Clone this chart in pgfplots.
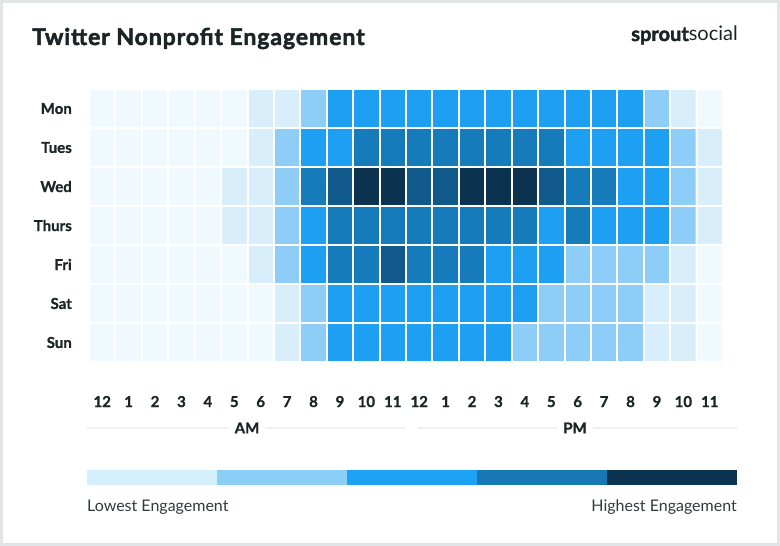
\documentclass[border=0pt]{standalone}
\usepackage{pgfplots}
\pgfplotsset{compat=1.18}
\usepackage{fontspec}
\setmainfont{Lato}
\newfontfamily\heavy{Lato}[BoldFeatures={FakeBold=2.2}]
\newfontfamily\heavyspaced{Lato}[BoldFeatures={FakeBold=2.2,LetterSpace=4}]
\newfontfamily\semiheavy{Lato}[BoldFeatures={FakeBold=1}]
\definecolor{txt}{HTML}{1C2526}
\definecolor{frame}{HTML}{E1E5E5}
\definecolor{rule}{HTML}{EEEFEF}
\definecolor{lv0}{HTML}{F0FAFE}
\definecolor{lv1}{HTML}{D8EEFB}
\definecolor{lv2}{HTML}{8DCDF7}
\definecolor{lv3}{HTML}{1DA0F2}
\definecolor{lv4}{HTML}{167BBA}
\definecolor{lv5}{HTML}{11598A}
\definecolor{lv6}{HTML}{0B3350}
\definecolor{lg1}{HTML}{D5F0FC}
\definecolor{lg2}{HTML}{8ACFF6}
\definecolor{lg3}{HTML}{1DA1F2}
\definecolor{lg4}{HTML}{1877B5}
\definecolor{lg5}{HTML}{0C3451}
\begin{document}
\begin{tikzpicture}[x=1pt,y=1pt]
\fill[frame] (0,0) rectangle (780,546);
\fill[white] (3,3) rectangle (777,543);
\node[anchor=base west, inner sep=0, text=txt, font=\fontsize{23}{26}\heavyspaced\bfseries] at (32,501) {Twitter Nonprofit Engagement};
\node[anchor=base east, inner sep=0, text=txt, font=\fontsize{20}{22}\selectfont] at (738,505) {{\heavy\bfseries sprout}social};
\begin{axis}[at={(89pt,184pt)}, anchor=south west, scale only axis,
  width=634pt, height=273pt,
  xmin=-0.5, xmax=23.5, ymin=-0.5, ymax=6.5, y dir=reverse,
  axis line style={draw=none}, major tick length=0pt,
  xtick={0,...,23}, ytick={0,...,6},
  xticklabels={12,1,2,3,4,5,6,7,8,9,10,11,12,1,2,3,4,5,6,7,8,9,10,11},
  yticklabels={Mon,Tues,Wed,Thurs,Fri,Sat,Sun},
  x tick label style={anchor=base, inner sep=0pt, yshift=-45pt, font=\fontsize{15}{16}\semiheavy\bfseries, text=txt},
  y tick label style={anchor=east, inner sep=0pt, xshift=-17pt, font=\fontsize{15}{16}\semiheavy\bfseries, text=txt},
  colormap={lvls}{color(0)=(lv0) color(1)=(lv1) color(2)=(lv2) color(3)=(lv3) color(4)=(lv4) color(5)=(lv5) color(6)=(lv6)},
  colormap access=direct,
]
\addplot[matrix plot*, point meta=explicit, mesh/cols=24, draw=white, line width=2pt] coordinates {
(0,0)[0] (1,0)[0] (2,0)[0] (3,0)[0] (4,0)[0] (5,0)[0] (6,0)[1] (7,0)[1] (8,0)[2] (9,0)[3] (10,0)[3] (11,0)[3] (12,0)[3] (13,0)[3] (14,0)[3] (15,0)[3] (16,0)[3] (17,0)[3] (18,0)[3] (19,0)[3] (20,0)[3] (21,0)[2] (22,0)[1] (23,0)[0]

(0,1)[0] (1,1)[0] (2,1)[0] (3,1)[0] (4,1)[0] (5,1)[0] (6,1)[1] (7,1)[2] (8,1)[3] (9,1)[3] (10,1)[4] (11,1)[4] (12,1)[4] (13,1)[4] (14,1)[4] (15,1)[4] (16,1)[4] (17,1)[4] (18,1)[3] (19,1)[3] (20,1)[3] (21,1)[3] (22,1)[2] (23,1)[1]

(0,2)[0] (1,2)[0] (2,2)[0] (3,2)[0] (4,2)[0] (5,2)[1] (6,2)[1] (7,2)[2] (8,2)[4] (9,2)[5] (10,2)[6] (11,2)[6] (12,2)[5] (13,2)[5] (14,2)[6] (15,2)[6] (16,2)[6] (17,2)[5] (18,2)[4] (19,2)[4] (20,2)[3] (21,2)[3] (22,2)[2] (23,2)[1]

(0,3)[0] (1,3)[0] (2,3)[0] (3,3)[0] (4,3)[0] (5,3)[1] (6,3)[1] (7,3)[2] (8,3)[3] (9,3)[4] (10,3)[4] (11,3)[4] (12,3)[4] (13,3)[4] (14,3)[4] (15,3)[4] (16,3)[4] (17,3)[3] (18,3)[4] (19,3)[3] (20,3)[3] (21,3)[3] (22,3)[2] (23,3)[1]

(0,4)[0] (1,4)[0] (2,4)[0] (3,4)[0] (4,4)[0] (5,4)[0] (6,4)[1] (7,4)[2] (8,4)[3] (9,4)[4] (10,4)[4] (11,4)[5] (12,4)[4] (13,4)[4] (14,4)[4] (15,4)[3] (16,4)[3] (17,4)[3] (18,4)[2] (19,4)[2] (20,4)[2] (21,4)[2] (22,4)[1] (23,4)[0]

(0,5)[0] (1,5)[0] (2,5)[0] (3,5)[0] (4,5)[0] (5,5)[0] (6,5)[0] (7,5)[1] (8,5)[2] (9,5)[3] (10,5)[3] (11,5)[3] (12,5)[3] (13,5)[3] (14,5)[3] (15,5)[3] (16,5)[3] (17,5)[2] (18,5)[2] (19,5)[2] (20,5)[2] (21,5)[1] (22,5)[1] (23,5)[0]

(0,6)[0] (1,6)[0] (2,6)[0] (3,6)[0] (4,6)[0] (5,6)[0] (6,6)[0] (7,6)[1] (8,6)[2] (9,6)[3] (10,6)[3] (11,6)[3] (12,6)[3] (13,6)[3] (14,6)[3] (15,6)[3] (16,6)[2] (17,6)[2] (18,6)[2] (19,6)[2] (20,6)[2] (21,6)[1] (22,6)[1] (23,6)[0]
};
\end{axis}
% AM / PM rules
\draw[rule, line width=2pt] (87,118) -- (405,118);
\draw[rule, line width=2pt] (418,118) -- (737,118);
\node[fill=white, inner xsep=6pt, inner ysep=1pt, text=txt, font=\fontsize{15}{16}\semiheavy\bfseries] at (247,118) {AM};
\node[fill=white, inner xsep=6pt, inner ysep=1pt, text=txt, font=\fontsize{15}{16}\semiheavy\bfseries] at (575,118) {PM};
% legend bar
\fill[lg1] (87,61) rectangle (217,76);
\fill[lg2] (217,61) rectangle (347,76);
\fill[lg3] (347,61) rectangle (477,76);
\fill[lg4] (477,61) rectangle (607,76);
\fill[lg5] (607,61) rectangle (737,76);
\node[anchor=base west, inner sep=0, text=txt!90, font=\fontsize{16}{18}\selectfont] at (87,34) {Lowest Engagement};
\node[anchor=base east, inner sep=0, text=txt!90, font=\fontsize{16}{18}\selectfont] at (737,34) {Highest Engagement};
\end{tikzpicture}
\end{document}
